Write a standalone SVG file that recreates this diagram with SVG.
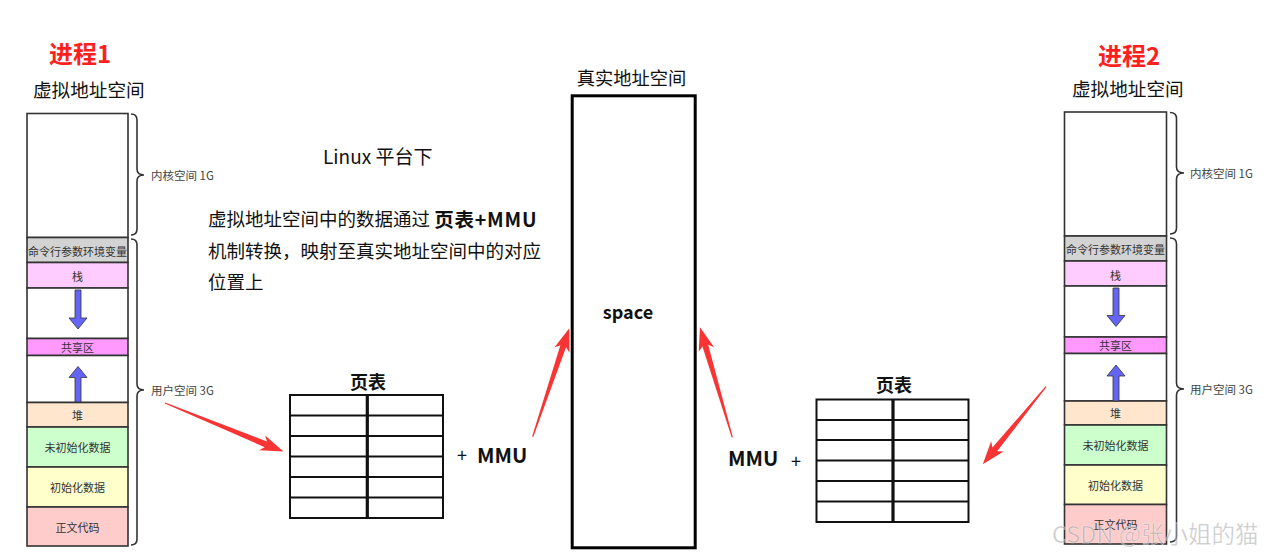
<svg xmlns="http://www.w3.org/2000/svg" width="1269" height="556" viewBox="0 0 1269 556">
<style>
text{font-family:"Noto Sans CJK SC","Noto Sans",sans-serif;dominant-baseline:central}
.title{font-size:24px;font-weight:bold;fill:#ff1f1f}
.vhead{font-size:18.6px;fill:#111}
.blk{stroke:#333;stroke-width:1.6}
.lbl{font-size:11px;fill:#333;text-anchor:middle}
.brace{fill:none;stroke:#333;stroke-width:1.6}
.blbl{font-size:11.5px;fill:#444}
.blue{fill:#6565f5;stroke:#333;stroke-width:0.8}
.pt{fill:none;stroke:#111;stroke-width:2}
.ptm{stroke:#111;stroke-width:3.2}
.bold{font-weight:bold;fill:#111}
.body{font-size:18.5px;fill:#111}
.red{fill:#f83434}
</style>
<rect width="1269" height="556" fill="#fff"/>

<!-- Process 1 -->
<g id="process1">
<text class="title" x="49" y="52">进程1</text>
<text class="vhead" x="33" y="88">虚拟地址空间</text>
<g id="p1-kernel"><rect class="blk" x="27" y="113.5" width="101" height="124" fill="#fff"/></g>
<g id="p1-env"><rect class="blk" x="27" y="237.5" width="101" height="25" fill="#d3d3d3"/><text class="lbl" x="77.5" y="250.5">命令行参数环境变量</text></g>
<g id="p1-stack"><rect class="blk" x="27" y="262.5" width="101" height="25.5" fill="#ffccff"/><text class="lbl" x="77.5" y="276">栈</text></g>
<g id="p1-gap1"><rect class="blk" x="27" y="288" width="101" height="50.5" fill="#fff"/></g>
<g id="p1-shared"><rect class="blk" x="27" y="338.5" width="101" height="17" fill="#ff99ff"/><text class="lbl" x="77.5" y="347">共享区</text></g>
<g id="p1-gap2"><rect class="blk" x="27" y="355.5" width="101" height="47" fill="#fff"/></g>
<g id="p1-heap"><rect class="blk" x="27" y="402.5" width="101" height="24.5" fill="#ffe6cc"/><text class="lbl" x="77.5" y="414.5">堆</text></g>
<g id="p1-bss"><rect class="blk" x="27" y="427" width="101" height="40" fill="#ccffcc"/><text class="lbl" x="77.5" y="447">未初始化数据</text></g>
<g id="p1-data"><rect class="blk" x="27" y="467" width="101" height="40" fill="#ffffcc"/><text class="lbl" x="77.5" y="487">初始化数据</text></g>
<g id="p1-text"><rect class="blk" x="27" y="507" width="101" height="39" fill="#ffcccc"/><text class="lbl" x="77.5" y="527">正文代码</text></g>
<polygon class="blue" points="75,290 81,290 81,318 87,318 78,329 69,318 75,318"/>
<polygon class="blue" points="75,402 81,402 81,377.5 87,377.5 78,366.5 69,377.5 75,377.5"/>
<path class="brace" d="M131,114 Q137,114 137,120 L137,169 Q137,175 144,175 Q137,175 137,181 L137,229 Q137,235 131,235"/>
<text class="blbl" x="151" y="175">内核空间 1G</text>
<path class="brace" d="M131,239 Q137,239 137,245 L137,384 Q137,390 144,390 Q137,390 137,396 L137,539 Q137,545 131,545"/>
<text class="blbl" x="151" y="390">用户空间 3G</text>
</g>

<!-- Process 2 -->
<g id="process2">
<text class="title" x="1098" y="54">进程2</text>
<text class="vhead" x="1072" y="87">虚拟地址空间</text>
<g id="p2-kernel"><rect class="blk" x="1064.5" y="112" width="102" height="124" fill="#fff"/></g>
<g id="p2-env"><rect class="blk" x="1064.5" y="236" width="102" height="25" fill="#d3d3d3"/><text class="lbl" x="1115.5" y="249">命令行参数环境变量</text></g>
<g id="p2-stack"><rect class="blk" x="1064.5" y="261" width="102" height="25" fill="#ffccff"/><text class="lbl" x="1115.5" y="274.5">栈</text></g>
<g id="p2-gap1"><rect class="blk" x="1064.5" y="286" width="102" height="51" fill="#fff"/></g>
<g id="p2-shared"><rect class="blk" x="1064.5" y="337" width="102" height="16.5" fill="#ff99ff"/><text class="lbl" x="1115.5" y="345">共享区</text></g>
<g id="p2-gap2"><rect class="blk" x="1064.5" y="353.5" width="102" height="47.5" fill="#fff"/></g>
<g id="p2-heap"><rect class="blk" x="1064.5" y="401" width="102" height="24" fill="#ffe6cc"/><text class="lbl" x="1115.5" y="412.5">堆</text></g>
<g id="p2-bss"><rect class="blk" x="1064.5" y="425" width="102" height="40" fill="#ccffcc"/><text class="lbl" x="1115.5" y="445">未初始化数据</text></g>
<g id="p2-data"><rect class="blk" x="1064.5" y="465" width="102" height="39.5" fill="#ffffcc"/><text class="lbl" x="1115.5" y="485">初始化数据</text></g>
<g id="p2-text"><rect class="blk" x="1064.5" y="504.5" width="102" height="39.5" fill="#ffcccc"/><text class="lbl" x="1115.5" y="524">正文代码</text></g>
<polygon class="blue" points="1113,288 1119,288 1119,315.5 1125,315.5 1116,326.5 1107,315.5 1113,315.5"/>
<polygon class="blue" points="1113,401 1119,401 1119,376 1125,376 1116,365 1107,376 1113,376"/>
<path class="brace" d="M1170,112.5 Q1176.5,112.5 1176.5,118.5 L1176.5,167 Q1176.5,173 1184,173 Q1176.5,173 1176.5,179 L1176.5,228 Q1176.5,234 1170,234"/>
<text class="blbl" x="1190" y="173">内核空间 1G</text>
<path class="brace" d="M1170,238 Q1176.5,238 1176.5,244 L1176.5,383 Q1176.5,389 1184,389 Q1176.5,389 1176.5,395 L1176.5,536 Q1176.5,542 1170,542"/>
<text class="blbl" x="1190" y="389">用户空间 3G</text>
</g>

<!-- Description -->
<g id="description">
<text class="body" x="323" y="155" style="font-size:19px">Linux 平台下</text>
<text class="body" x="208" y="218">虚拟地址空间中的数据通过 <tspan font-weight="bold" font-size="19.5" letter-spacing="0.8">页表+MMU</tspan></text>
<text class="body" x="208" y="250">机制转换，映射至真实地址空间中的对应</text>
<text class="body" x="208" y="281">位置上</text>
</g>

<!-- Physical memory -->
<g id="physical">
<text class="vhead" x="631.5" y="77" text-anchor="middle" style="font-size:18.3px">真实地址空间</text>
<rect x="572.2" y="95.8" width="123" height="452" fill="#fff" stroke="#000" stroke-width="3"/>
<text class="bold" x="628" y="311" text-anchor="middle" font-size="18">space</text>
</g>

<!-- Page table 1 -->
<g id="pagetable1">
<text class="bold" x="368" y="381" text-anchor="middle" font-size="18">页表</text>
<rect class="pt" x="290" y="395" width="153" height="123"/>
<path class="pt" d="M290,415.5H443M290,436H443M290,456.5H443M290,477H443M290,497.5H443"/>
<line class="ptm" x1="367.3" y1="395" x2="367.3" y2="518"/>
<text x="462" y="454" text-anchor="middle" font-size="18" fill="#111">+</text>
<text class="bold" x="477" y="454" font-size="20.5">MMU</text>
</g>

<!-- Page table 2 -->
<g id="pagetable2">
<text class="bold" x="894" y="384" text-anchor="middle" font-size="18">页表</text>
<rect class="pt" x="816.5" y="399.5" width="152" height="122.5"/>
<path class="pt" d="M816.5,420H968.5M816.5,440H968.5M816.5,460.5H968.5M816.5,481H968.5M816.5,501.5H968.5"/>
<line class="ptm" x1="893" y1="399.5" x2="893" y2="522"/>
<text class="bold" x="728" y="457" font-size="20.5">MMU</text>
<text x="796" y="460" text-anchor="middle" font-size="18" fill="#111">+</text>
</g>

<!-- Connectors -->
<g id="connectors">
<polygon class="red" transform="translate(165,403) rotate(22.3)" points="0,-0.6 109,-3 105,-8 128,0 105,8 109,3 0,0.6"/>
<polygon class="red" transform="translate(532.7,436.7) rotate(-71.35)" points="0,-0.6 95.4,-3 91.4,-8 114.4,0 91.4,8 95.4,3 0,0.6"/>
<polygon class="red" transform="translate(732.3,437.3) rotate(-106.4)" points="0,-0.6 95.6,-3 91.6,-8 114.6,0 91.6,8 95.6,3 0,0.6"/>
<polygon class="red" transform="translate(1046,386.7) rotate(129.2)" points="0,-0.6 81,-3 77,-8 100,0 77,8 81,3 0,0.6"/>
</g>

<!-- Watermark -->
<text x="1052" y="533" font-size="23.5" fill="#9a9a9a" fill-opacity="0.55" stroke="#fff" stroke-opacity="0.6" stroke-width="0.6">CSDN @张小姐的猫</text>
</svg>
